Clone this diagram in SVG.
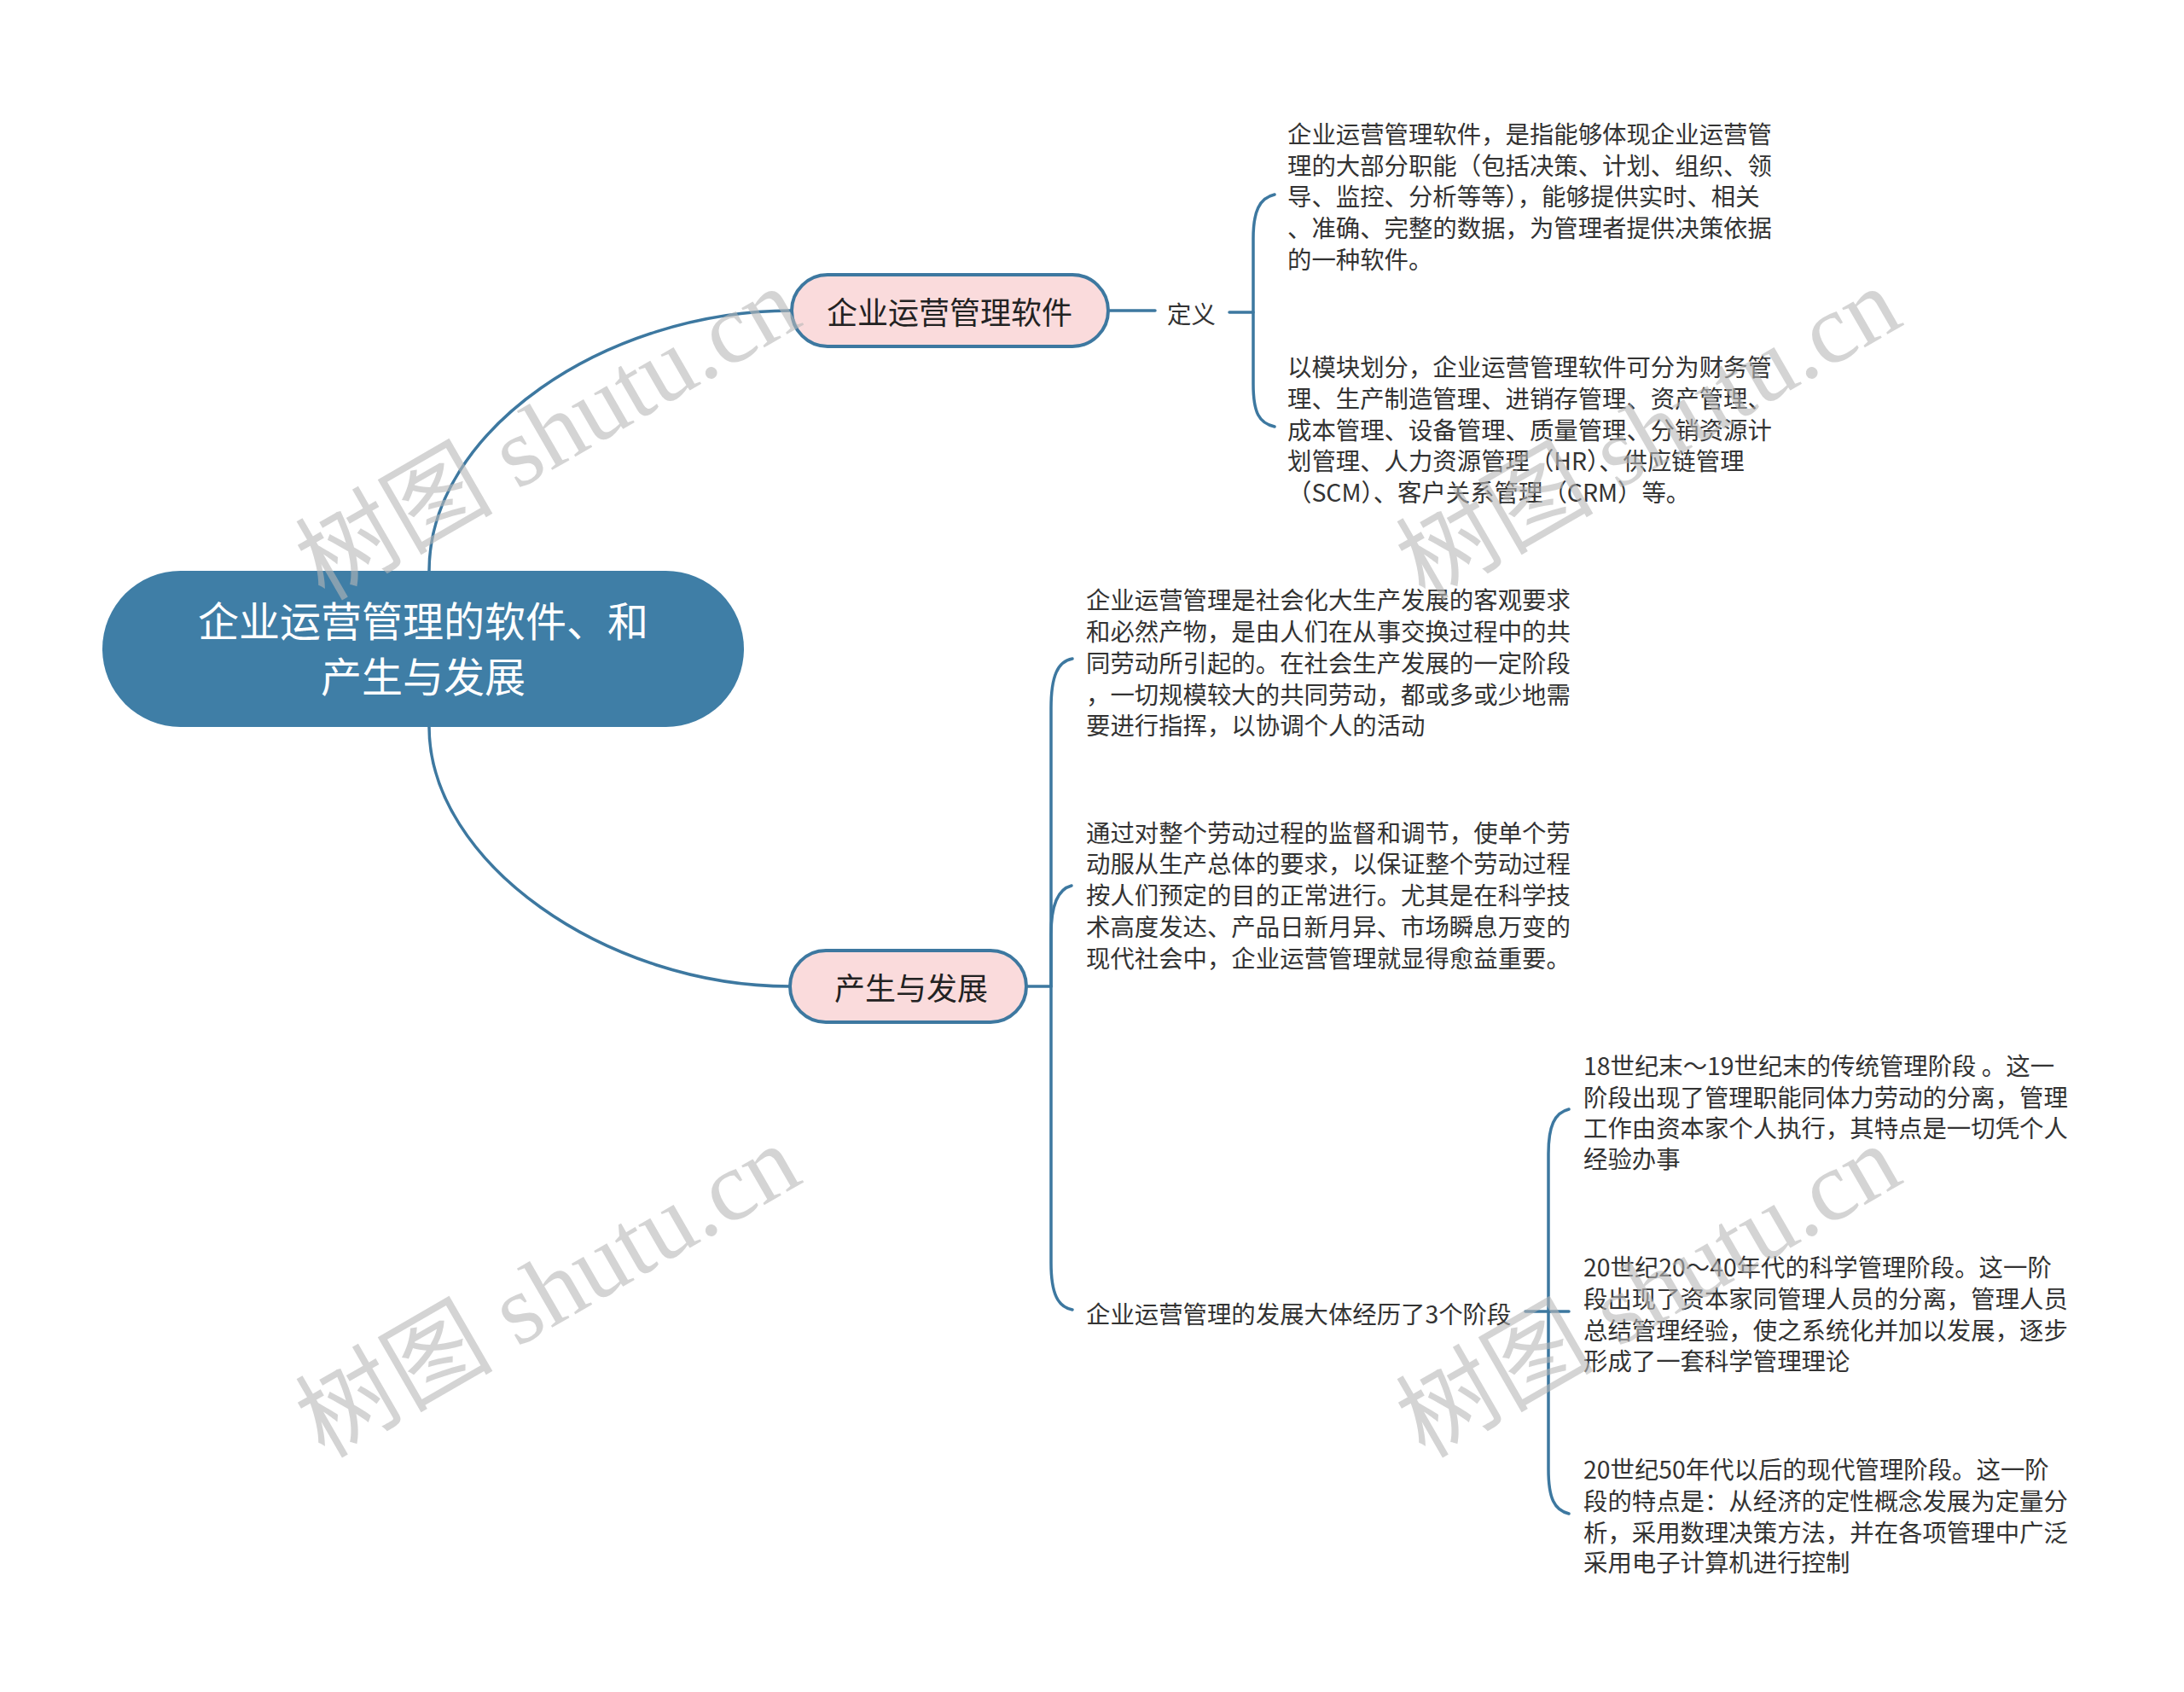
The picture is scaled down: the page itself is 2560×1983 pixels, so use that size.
<svg xmlns="http://www.w3.org/2000/svg" width="2560" height="1983" viewBox="0 0 2560 1983">
<style>
.bg{fill:#ffffff}
.root{fill:#3f7ea6}
.rootText{fill:#ffffff;font-family:"Noto Sans CJK SC","Noto Sans",sans-serif;font-size:48px;text-anchor:middle;dominant-baseline:central}
.sub{fill:#fadbdc;stroke:#3d78a0;stroke-width:4}
.subText{fill:#222222;font-family:"Noto Sans CJK SC","Noto Sans",sans-serif;font-size:36px;text-anchor:middle;dominant-baseline:central}
.leaf{fill:#333333;font-family:"Noto Sans CJK SC","Noto Sans",sans-serif;font-size:28.4px;dominant-baseline:central}
.conn{fill:none;stroke:#3d78a0;stroke-width:3.5;stroke-linecap:round}
.wm{fill:#b8b8b8;fill-opacity:0.6;font-family:"Liberation Serif","Noto Sans CJK SC",serif;font-size:116px}
</style>
<rect class="bg" x="0" y="0" width="2560" height="1983"/>

<g id="connectors">
  <path class="conn" d="M 503 669 C 503 505, 710 364, 928 364"/>
  <path class="conn" d="M 503 852 C 503 1010, 710 1156, 926 1156"/>
  <path class="conn" d="M 1301 364 H 1354"/>
  <path class="conn" d="M 1441 366 H 1469"/>
  <path class="conn" d="M 1494 228 C 1476 232, 1469 248, 1469 280 V 450 C 1469 484, 1476 496, 1494 500"/>
  <path class="conn" d="M 1205 1156 H 1232"/>
  <path class="conn" d="M 1232 1156 V 830 C 1232 792, 1240 775, 1257 772"/>
  <path class="conn" d="M 1232 1156 V 1095 C 1232 1062, 1240 1042, 1256 1038"/>
  <path class="conn" d="M 1232 1156 V 1480 C 1232 1516, 1240 1532, 1257 1535"/>
  <path class="conn" d="M 1788 1537 H 1839"/>
  <path class="conn" d="M 1839 1300 C 1822 1304, 1815 1320, 1815 1352 V 1722 C 1815 1756, 1822 1770, 1839 1774"/>
</g>

<g id="root">
  <rect class="root" x="120" y="669" width="752" height="183" rx="91.5"/>
  <text class="rootText" x="496" y="725">企业运营管理的软件、和</text>
  <text class="rootText" x="496" y="790">产生与发展</text>
</g>

<g id="node-software">
  <rect class="sub" x="928" y="322" width="371" height="84" rx="42"/>
  <text class="subText" x="1113" y="364">企业运营管理软件</text>
</g>

<g id="node-definition">
  <text class="leaf" x="1368" y="366">定义</text>
</g>

<g id="node-def-1">
  <text class="leaf" x="1509" y="155">企业运营管理软件，是指能够体现企业运营管</text>
  <text class="leaf" x="1509" y="192">理的大部分职能（包括决策、计划、组织、领</text>
  <text class="leaf" x="1509" y="228">导、监控、分析等等），能够提供实时、相关</text>
  <text class="leaf" x="1509" y="265">、准确、完整的数据，为管理者提供决策依据</text>
  <text class="leaf" x="1509" y="302">的一种软件。</text>
</g>

<g id="node-def-2">
  <text class="leaf" x="1509" y="428">以模块划分，企业运营管理软件可分为财务管</text>
  <text class="leaf" x="1509" y="465">理、生产制造管理、进销存管理、资产管理、</text>
  <text class="leaf" x="1509" y="502">成本管理、设备管理、质量管理、分销资源计</text>
  <text class="leaf" x="1509" y="538">划管理、人力资源管理（HR）、供应链管理</text>
  <text class="leaf" x="1509" y="575">（SCM）、客户关系管理（CRM）等。</text>
</g>

<g id="node-development">
  <rect class="sub" x="926" y="1114" width="277" height="84" rx="42"/>
  <text class="subText" x="1068" y="1156">产生与发展</text>
</g>

<g id="node-dev-1">
  <text class="leaf" x="1273" y="701">企业运营管理是社会化大生产发展的客观要求</text>
  <text class="leaf" x="1273" y="738">和必然产物，是由人们在从事交换过程中的共</text>
  <text class="leaf" x="1273" y="775">同劳动所引起的。在社会生产发展的一定阶段</text>
  <text class="leaf" x="1273" y="812">，一切规模较大的共同劳动，都或多或少地需</text>
  <text class="leaf" x="1273" y="848">要进行指挥，以协调个人的活动</text>
</g>

<g id="node-dev-2">
  <text class="leaf" x="1273" y="974">通过对整个劳动过程的监督和调节，使单个劳</text>
  <text class="leaf" x="1273" y="1010">动服从生产总体的要求，以保证整个劳动过程</text>
  <text class="leaf" x="1273" y="1047">按人们预定的目的正常进行。尤其是在科学技</text>
  <text class="leaf" x="1273" y="1084">术高度发达、产品日新月异、市场瞬息万变的</text>
  <text class="leaf" x="1273" y="1121">现代社会中，企业运营管理就显得愈益重要。</text>
</g>

<g id="node-stages">
  <text class="leaf" x="1273" y="1538">企业运营管理的发展大体经历了3个阶段</text>
</g>

<g id="node-stage-1">
  <text class="leaf" x="1856" y="1247">18世纪末～19世纪末的传统管理阶段 。这一</text>
  <text class="leaf" x="1856" y="1284">阶段出现了管理职能同体力劳动的分离，管理</text>
  <text class="leaf" x="1856" y="1320">工作由资本家个人执行，其特点是一切凭个人</text>
  <text class="leaf" x="1856" y="1356">经验办事</text>
</g>

<g id="node-stage-2">
  <text class="leaf" x="1856" y="1483">20世纪20～40年代的科学管理阶段。这一阶</text>
  <text class="leaf" x="1856" y="1520">段出现了资本家同管理人员的分离，管理人员</text>
  <text class="leaf" x="1856" y="1557">总结管理经验，使之系统化并加以发展，逐步</text>
  <text class="leaf" x="1856" y="1593">形成了一套科学管理理论</text>
</g>

<g id="node-stage-3">
  <text class="leaf" x="1856" y="1720">20世纪50年代以后的现代管理阶段。这一阶</text>
  <text class="leaf" x="1856" y="1757">段的特点是：从经济的定性概念发展为定量分</text>
  <text class="leaf" x="1856" y="1794">析，采用数理决策方法，并在各项管理中广泛</text>
  <text class="leaf" x="1856" y="1829">采用电子计算机进行控制</text>
</g>

<g id="watermarks">
  <text class="wm" transform="translate(380 705) rotate(-30)">树图 shutu.cn</text>
  <text class="wm" transform="translate(1670 705) rotate(-30)">树图 shutu.cn</text>
  <text class="wm" transform="translate(380 1710) rotate(-30)">树图 shutu.cn</text>
  <text class="wm" transform="translate(1670 1710) rotate(-30)">树图 shutu.cn</text>
</g>
</svg>
